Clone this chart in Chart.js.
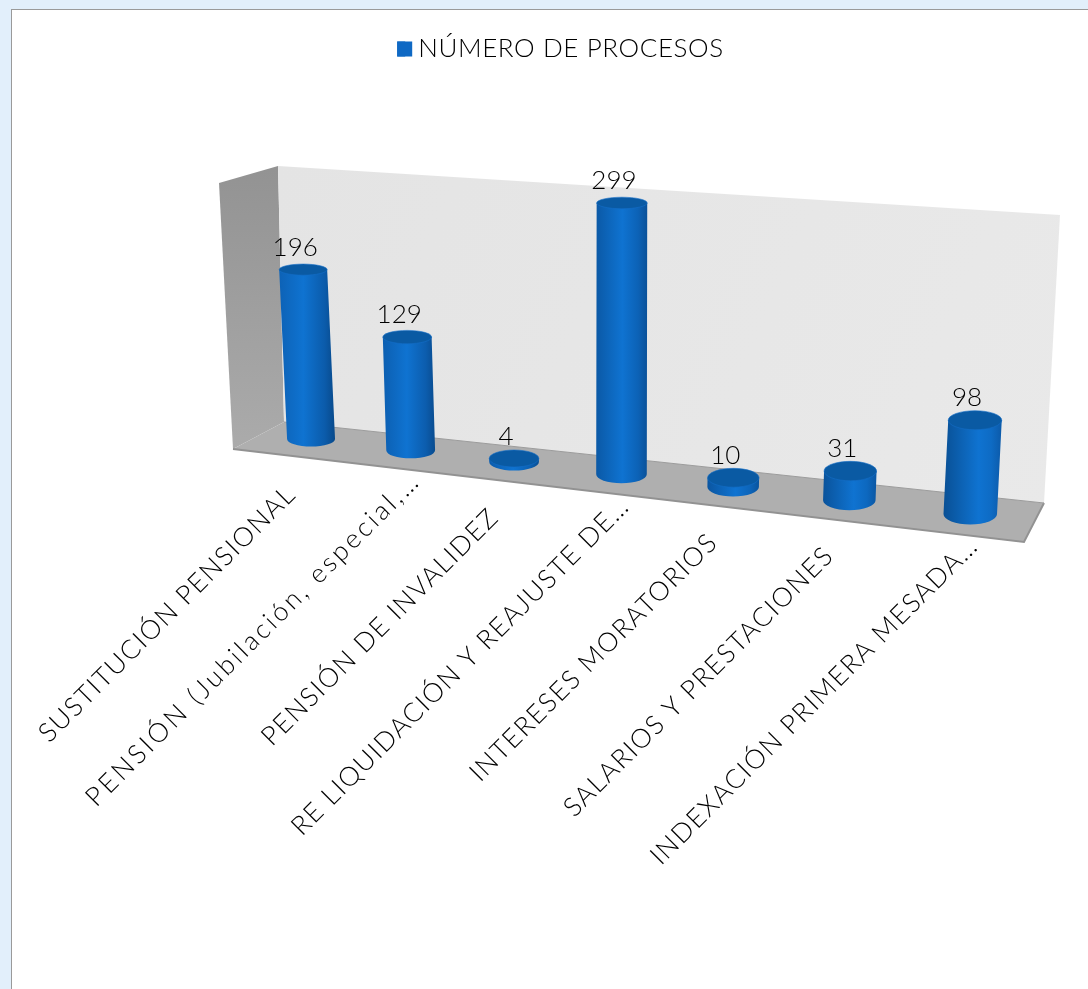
<!DOCTYPE html>
<html lang="es">
<head>
<meta charset="utf-8">
<title>Número de procesos</title>
<script src="https://cdn.jsdelivr.net/npm/chart.js@4/dist/chart.umd.min.js"></script>
<style>
  html, body { margin: 0; height: 100%; overflow: hidden; background: #e2effb; }
  #frame { position: absolute; left: 11px; top: 9px; width: 1097px; height: 980px; background: #fff; border-left: 1px solid #9a9a9a; border-top: 1px solid #9a9a9a; }
  canvas { display: block; }
</style>
</head>
<body>
<div id="frame"><canvas id="procesos" width="1097" height="980"></canvas></div>
<script>
const categories = [
   "SUSTITUCIÓN PENSIONAL",
   "PENSIÓN (Jubilación, especial,…",
   "PENSIÓN DE INVALIDEZ",
   "RE LIQUIDACIÓN Y REAJUSTE DE…",
   "INTERESES MORATORIOS",
   "SALARIOS Y PRESTACIONES",
   "INDEXACIÓN PRIMERA MESADA…",
];
const seriesName = "NÚMERO DE PROCESOS";
const processCounts = [196, 129, 4, 299, 10, 31, 98];
const valueAxisMax = 300;

const FONT = "Lato, 'Open Sans', sans-serif";
const TEXT_COLOR = "#000";
const LEGEND_BLUE = "#0f69c4";

// the 3D box, in page pixels
const OFFSET = { x: 12, y: 10 };
const PLANE = {
   bottomLeft: [262.6, 433.5],
   bottomRight: [1032.6, 521],
   topLeft: [248.6, 176.3],
   topRight: [1049.6, 231.6],
};
const PERSPECTIVE = 0.127;

function lerp(a, b, t) {
   return a + (b - a) * t;
}

function depthOf(f) {
   return (f * (1 - PERSPECTIVE)) / (1 - PERSPECTIVE * f);
}

// f: 0..1 along the category axis, v: 0..1 along the value axis
function project(f, v) {
   const s = depthOf(f);
   const bx = lerp(PLANE.bottomLeft[0], PLANE.bottomRight[0], s);
   const by = lerp(PLANE.bottomLeft[1], PLANE.bottomRight[1], s);
   const tx = lerp(PLANE.topLeft[0], PLANE.topRight[0], s);
   const ty = lerp(PLANE.topLeft[1], PLANE.topRight[1], s);
   return { x: lerp(bx, tx, v), y: lerp(by, ty, v), s };
}

function ellipseHeight(y, s) {
   return 4.2 + 0.012 * (y - 170) + 2.5 * s;
}

function mix(c1, c2, t) {
   const c = c1.map((n, i) => Math.round(lerp(n, c2[i], t)));
   return `rgb(${c[0]}, ${c[1]}, ${c[2]})`;
}

function polygon(ctx, points, fill) {
   ctx.beginPath();
   points.forEach(([x, y], i) => (i ? ctx.lineTo(x, y) : ctx.moveTo(x, y)));
   ctx.closePath();
   ctx.fillStyle = fill;
   ctx.fill();
}

function drawWalls(ctx) {
   const side = ctx.createLinearGradient(0, 170, 0, 450);
   side.addColorStop(0, "#939393");
   side.addColorStop(1, "#ababab");
   polygon(ctx, [[219, 183], [278, 166], [284, 422], [233, 449]], side);

   const back = ctx.createLinearGradient(278, 166, 1060, 503);
   back.addColorStop(0, "#e4e4e4");
   back.addColorStop(1, "#e9e9e9");
   polygon(ctx, [[278, 166], [1060, 215], [1044, 503], [284, 422]], back);

   polygon(ctx, [[233, 449], [284, 422], [1044, 503], [1024, 542]], "#afafaf");

   ctx.strokeStyle = "#929292";
   ctx.lineWidth = 2;
   ctx.beginPath();
   ctx.moveTo(233, 449);
   ctx.lineTo(1024, 542);
   ctx.lineTo(1044, 503);
   ctx.stroke();
   ctx.lineWidth = 1;
   ctx.strokeStyle = "#9c9c9c";
   ctx.beginPath();
   ctx.moveTo(284, 422);
   ctx.lineTo(1044, 503);
   ctx.stroke();
}

function drawCylinder(ctx, bar, chart) {
   const area = chart.chartArea;
   const f = (bar.x - area.left) / area.width;
   const v = (area.bottom - bar.y) / area.height;
   const top = project(f, v);
   const base = project(f, 0);
   const rx = ((bar.width / area.width) * 385) * (0.95 + 0.13 * base.s);
   const topRy = ellipseHeight(top.y, top.s);
   const baseRy = ellipseHeight(base.y, base.s);

   const h = 0.42 + 0.2 * base.s;
   const gradient = ctx.createLinearGradient(Math.min(top.x, base.x) - rx, 0, Math.max(top.x, base.x) + rx, 0);
   gradient.addColorStop(0, mix([13, 99, 184], [9, 78, 146], base.s));
   gradient.addColorStop(h, "#0f73d1");
   gradient.addColorStop(0.82, mix([11, 90, 168], [14, 108, 198], base.s));
   gradient.addColorStop(1, mix([8, 72, 136], [12, 92, 172], base.s));

   ctx.beginPath();
   ctx.moveTo(top.x - rx, top.y);
   ctx.lineTo(base.x - rx, base.y);
   ctx.ellipse(base.x, base.y, rx, baseRy, 0, Math.PI, 0, true);
   ctx.lineTo(top.x + rx, top.y);
   ctx.closePath();
   ctx.fillStyle = gradient;
   ctx.fill();

   ctx.beginPath();
   ctx.ellipse(top.x, top.y, rx, topRy, 0, 0, Math.PI * 2);
   ctx.fillStyle = "#0a5aa3";
   ctx.fill();
   ctx.strokeStyle = "rgba(20, 110, 200, 0.6)";
   ctx.lineWidth = 1;
   ctx.stroke();

   return { top, base, topRy };
}

function drawValueLabel(ctx, text, top) {
   ctx.save();
   ctx.letterSpacing = "0px";
   ctx.font = `300 26px ${FONT}`;
   ctx.fillStyle = TEXT_COLOR;
   ctx.textAlign = "center";
   ctx.textBaseline = "alphabetic";
   ctx.fillText(text, top.x - 8, top.y - 14);
   ctx.restore();
}

function drawCategoryLabel(ctx, text, base) {
   ctx.save();
   // Lato's lowercase is much narrower than the reference face
   ctx.letterSpacing = /[a-z]/.test(text) ? "3px" : "1.4px";
   ctx.font = `300 26.5px ${FONT}`;
   ctx.fillStyle = TEXT_COLOR;
   ctx.textAlign = "right";
   ctx.textBaseline = "middle";
   ctx.translate(base.x - 20, base.y + 51);
   ctx.rotate(-Math.PI / 4);
   // the trailing dots stick out past the anchor
   const overhang = text.endsWith("…") ? ctx.measureText("…").width * 1.6 : 0;
   ctx.fillText(text, overhang, 0);
   ctx.restore();
}

const perspectiveBars = {
   id: "perspectiveBars",
   beforeUpdate(chart) {
      chart.ctx.letterSpacing = "0.6px";
   },
   beforeDatasetsDraw(chart) {
      const { ctx } = chart;
      const meta = chart.getDatasetMeta(0);
      ctx.save();
      ctx.translate(-OFFSET.x, -OFFSET.y);
      drawWalls(ctx);
      meta.data.forEach((bar, i) => {
         const { top, base } = drawCylinder(ctx, bar, chart);
         drawValueLabel(ctx, String(processCounts[i]), top);
         drawCategoryLabel(ctx, chart.data.labels[i], base);
      });
      ctx.restore();
      return false;
   },
   afterDraw(chart) {
      // legend swatch is wider than the 8px slot that keeps the text close to it
      const box = chart.legend.legendHitBoxes[0];
      chart.ctx.fillStyle = LEGEND_BLUE;
      chart.ctx.fillRect(box.left, box.top + (box.height - 15) / 2, 15, 15);
   },
};

new Chart(document.getElementById("procesos"), {
   type: "bar",
   data: {
      labels: categories,
      datasets: [
         {
            label: seriesName,
            data: processCounts,
            backgroundColor: LEGEND_BLUE,
            categoryPercentage: 1,
            barPercentage: 0.455,
         },
      ],
   },
   options: {
      responsive: false,
      animation: false,
      layout: { padding: { top: 16, left: 100, right: 100, bottom: 300 } },
      plugins: {
         legend: {
            position: "top",
            labels: {
               boxWidth: 8,
               boxHeight: 15,
               color: TEXT_COLOR,
               font: { family: FONT, size: 26, weight: "300" },
            },
         },
         tooltip: { enabled: false },
      },
      scales: {
         x: { display: false },
         y: { display: false, min: 0, max: valueAxisMax },
      },
   },
   plugins: [perspectiveBars],
});
</script>
</body>
</html>
